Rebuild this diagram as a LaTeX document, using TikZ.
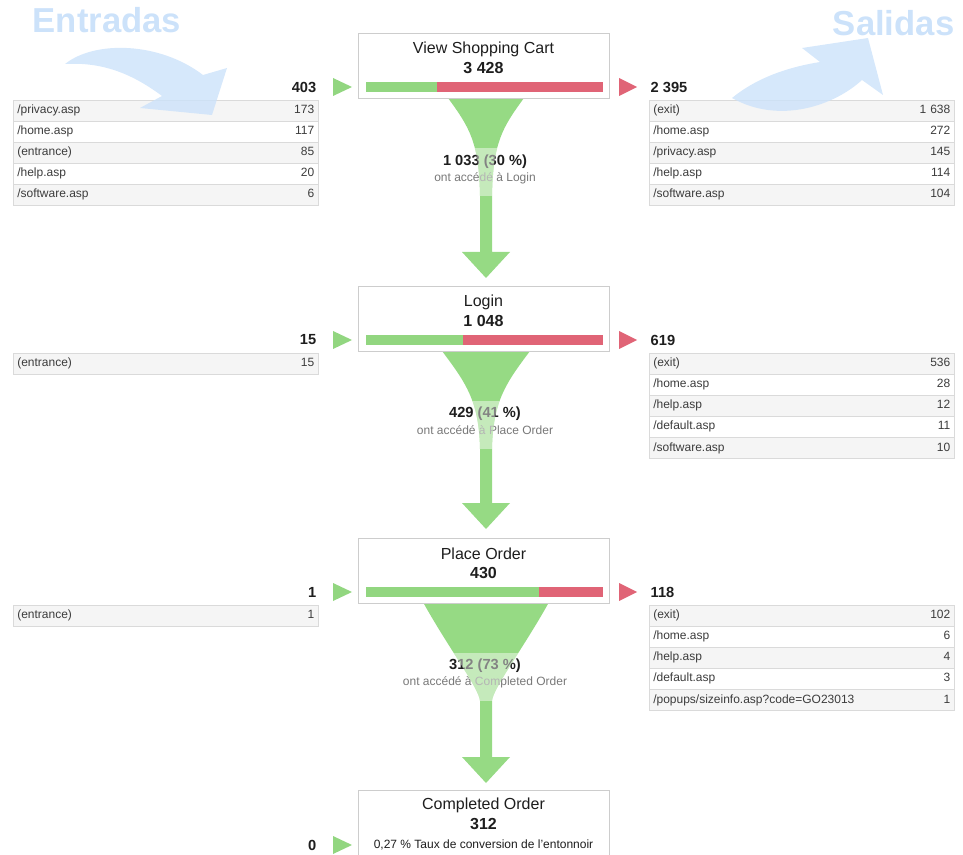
\documentclass[tikz,border=0pt]{standalone}
\usepackage{fontspec}
\setmainfont{Liberation Sans}
\usetikzlibrary{positioning}

\definecolor{flowgreen}{RGB}{150,218,132}
\definecolor{bargreen}{RGB}{146,214,128}
\definecolor{barred}{RGB}{224,100,118}
\definecolor{boxline}{RGB}{205,205,205}
\definecolor{rowgray}{RGB}{245,245,245}
\definecolor{rowline}{RGB}{218,218,218}
\definecolor{wmblue}{RGB}{204,226,250}
\definecolor{subgray}{RGB}{120,120,120}
\definecolor{ink}{RGB}{30,30,30}
\definecolor{rowink}{RGB}{60,60,60}

% Trichter: #1 oben y, #2 halbe Breite, #3/#4 erster Kontrollpunkt, #5 zweiter, #6 Pfeilkopf y
\newcommand{\funnelpath}[6]{%
  ({486-#2},#1) .. controls ({486-#2+#3},{#1+#4}) and (479,{#1+#5}) .. (480,{#1+98})
  -- (480,#6) -- (462,#6) -- (486,{#6+26}) -- (510,#6) -- (492,#6) -- (492,{#1+98})
  .. controls (493,{#1+#5}) and ({486+#2-#3},{#1+#4}) .. ({486+#2},#1) -- cycle}

\begin{document}
\begin{tikzpicture}[x=0.75pt, y=-0.75pt]

    % --- Styles ---
    \tikzset{
        stagebox/.style={draw=boxline, fill=white, minimum width=188.25pt, minimum height=48.75pt, inner sep=0pt, anchor=north west},
        stagetitle/.style={font=\fontsize{12}{14}\selectfont, text=ink},
        stagecount/.style={font=\fontsize{12}{14}\selectfont\bfseries, text=ink},
        sidenum/.style={font=\fontsize{11}{13}\selectfont\bfseries, text=ink},
        flowtext/.style={font=\fontsize{11}{13}\selectfont\bfseries, text=ink},
        flownote/.style={font=\fontsize{9}{11}\selectfont, text=subgray},
        rowodd/.style={draw=rowline, fill=rowgray, anchor=north west, text width=222.75pt, inner xsep=3pt, inner ysep=0pt, minimum height=15.4pt, text height=6.6pt, text depth=1.8pt, font=\fontsize{9}{11}\selectfont, text=rowink, execute at begin node={\parfillskip=0pt}},
        roweven/.style={rowodd, fill=white},
        watermark/.style={font=\fontsize{26}{30}\selectfont\bfseries, text=wmblue},
        wmarrow/.style={fill=wmblue, fill opacity=0.8},
        flowband/.style={fill=white, fill opacity=0.45}
    }

    \useasboundingbox (0,0) rectangle (963,855);
    \clip (0,0) rectangle (963,855);

    % --- 1. Trichter zwischen den Schritten ---
    \fill[flowgreen] \funnelpath{98}{38}{22}{30}{45}{252};
    \fill[flowgreen] \funnelpath{351}{44}{24}{32}{50}{503};
    \fill[flowgreen] \funnelpath{603}{62.5}{25}{45}{85}{757};

    % --- 2. Schritte ---
    % View Shopping Cart
    \node[stagebox] (cart) at (358,33) {};
    \node[stagetitle] (cartname) at (483.5,49) {View Shopping Cart};
    \node[stagecount] (cartnum) at (483.5,68) {3 428};
    \fill[bargreen] (366,82) rectangle (437,92);
    \fill[barred] (437,82) rectangle (603,92);
    \fill[bargreen] (333,78) -- (352,87) -- (333,96) -- cycle;
    \fill[barred] (619,78) -- (637,87) -- (619,96) -- cycle;
    \node[sidenum, anchor=east] (cartin) at (321,87) {403};
    \node[sidenum, anchor=west] (cartout) at (646,87) {2 395};

    % Login
    \node[stagebox] (login) at (358,286) {};
    \node[stagetitle] (loginname) at (483.5,302) {Login};
    \node[stagecount] (loginnum) at (483.5,321) {1 048};
    \fill[bargreen] (366,335) rectangle (463,345);
    \fill[barred] (463,335) rectangle (603,345);
    \fill[bargreen] (333,331) -- (352,340) -- (333,349) -- cycle;
    \fill[barred] (619,331) -- (637,340) -- (619,349) -- cycle;
    \node[sidenum, anchor=east] (loginin) at (321,340) {15};
    \node[sidenum, anchor=west] (loginout) at (646,340) {619};

    % Place Order
    \node[stagebox] (order) at (358,538) {};
    \node[stagetitle] (ordername) at (483.5,554) {Place Order};
    \node[stagecount] (ordernum) at (483.5,573) {430};
    \fill[bargreen] (366,587) rectangle (539,597);
    \fill[barred] (539,587) rectangle (603,597);
    \fill[bargreen] (333,583) -- (352,592) -- (333,601) -- cycle;
    \fill[barred] (619,583) -- (637,592) -- (619,601) -- cycle;
    \node[sidenum, anchor=east] (orderin) at (321,592) {1};
    \node[sidenum, anchor=west] (orderout) at (646,592) {118};

    % Completed Order (unten abgeschnitten)
    \node[stagebox, minimum height=80pt] (done) at (358,790) {};
    \node[stagetitle] (donename) at (483.5,805) {Completed Order};
    \node[stagecount] (donenum) at (483.5,824) {312};
    \node[font=\fontsize{9}{11}\selectfont, text=ink] (donerate) at (483.5,845) {0,27 \% Taux de conversion de l'entonnoir};
    \fill[bargreen] (333,836) -- (352,845) -- (333,854) -- cycle;
    \node[sidenum, anchor=east] (donein) at (321,845) {0};

    % --- 3. Beschriftungen der Trichter ---
    \node[flowtext] (flow1) at (485,162) {1 033 (30 \%)};
    \node[flownote] (note1) at (485,178) {ont accédé à Login};
    \node[flowtext] (flow2) at (485,414) {429 (41 \%)};
    \node[flownote] (note2) at (485,430) {ont accédé à Place Order};
    \node[flowtext] (flow3) at (485,666) {312 (73 \%)};
    \node[flownote] (note3) at (485,682) {ont accédé à Completed Order};

    % helle Bänder liegen über der Schrift
    \begin{scope}
        \clip \funnelpath{98}{38}{22}{30}{45}{252};
        \fill[flowband] (400,148) rectangle (570,196);
    \end{scope}
    \begin{scope}
        \clip \funnelpath{351}{44}{24}{32}{50}{503};
        \fill[flowband] (400,401) rectangle (570,449);
    \end{scope}
    \begin{scope}
        \clip \funnelpath{603}{62.5}{25}{45}{85}{757};
        \fill[flowband] (400,653) rectangle (570,701);
    \end{scope}

    % --- 4. Tabellen Eingänge (links) ---
    \node[rowodd] (in1a) at (13,100) {/privacy.asp\hfill 173};
    \node[roweven, below=0pt of in1a] (in1b) {/home.asp\hfill 117};
    \node[rowodd, below=0pt of in1b] (in1c) {(entrance)\hfill 85};
    \node[roweven, below=0pt of in1c] (in1d) {/help.asp\hfill 20};
    \node[rowodd, below=0pt of in1d] (in1e) {/software.asp\hfill 6};

    \node[rowodd] (in2a) at (13,353) {(entrance)\hfill 15};

    \node[rowodd] (in3a) at (13,605) {(entrance)\hfill 1};

    % --- 5. Tabellen Ausgänge (rechts) ---
    \node[rowodd] (out1a) at (649,100) {(exit)\hfill 1 638};
    \node[roweven, below=0pt of out1a] (out1b) {/home.asp\hfill 272};
    \node[rowodd, below=0pt of out1b] (out1c) {/privacy.asp\hfill 145};
    \node[roweven, below=0pt of out1c] (out1d) {/help.asp\hfill 114};
    \node[rowodd, below=0pt of out1d] (out1e) {/software.asp\hfill 104};

    \node[rowodd] (out2a) at (649,353) {(exit)\hfill 536};
    \node[roweven, below=0pt of out2a] (out2b) {/home.asp\hfill 28};
    \node[rowodd, below=0pt of out2b] (out2c) {/help.asp\hfill 12};
    \node[roweven, below=0pt of out2c] (out2d) {/default.asp\hfill 11};
    \node[rowodd, below=0pt of out2d] (out2e) {/software.asp\hfill 10};

    \node[rowodd] (out3a) at (649,605) {(exit)\hfill 102};
    \node[roweven, below=0pt of out3a] (out3b) {/home.asp\hfill 6};
    \node[rowodd, below=0pt of out3b] (out3c) {/help.asp\hfill 4};
    \node[roweven, below=0pt of out3c] (out3d) {/default.asp\hfill 3};
    \node[rowodd, below=0pt of out3d] (out3e) {/popups/sizeinfo.asp?code=GO23013\hfill 1};

    % --- 6. Wasserzeichen ---
    \node[watermark, anchor=base west] (entradas) at (28,33) {Entradas};
    \node[watermark, anchor=base east] (salidas) at (959,36) {Salidas};
    \fill[wmarrow] (65,64) .. controls (95,40) and (160,42) .. (203,75) -- (227,68) -- (212,115) -- (140,108) -- (162,96) .. controls (130,72) and (100,62) .. (65,64) -- cycle;
    \fill[wmarrow] (732,98) .. controls (760,75) and (795,66) .. (820,62) -- (802,48) -- (868,38) -- (883,95) -- (862,80) .. controls (835,105) and (780,125) .. (732,98) -- cycle;

\end{tikzpicture}
\end{document}
